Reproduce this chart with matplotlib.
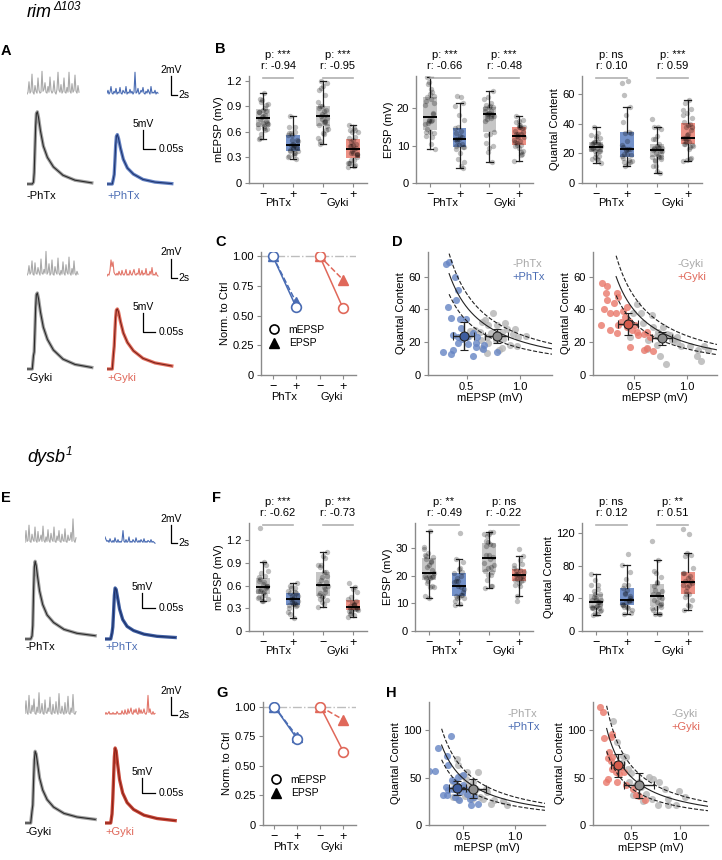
import numpy as np
import matplotlib
matplotlib.use("Agg")
import matplotlib.pyplot as plt
from matplotlib.lines import Line2D

plt.rcParams['font.family'] = ['Liberation Sans', 'DejaVu Sans']

# ---------------- data ----------------
# rim (top half): paired mEPSP (mV) and quantal content per cell
rim_phtx_ctrl_mepsp = [0.64, 0.67, 0.75, 0.70, 0.78, 0.83, 0.875, 0.95, 0.93, 1.06, 0.98, 0.84, 0.775, 0.69,
                       0.625, 0.58, 0.63, 0.70, 0.83, 0.91, 0.97, 0.69, 0.64, 0.53, 0.73, 0.86, 0.52, 0.80]
rim_phtx_ctrl_qc = [32.5, 33.5, 37.6, 30.5, 30.5, 26.5, 27.9, 27.9, 25, 23.8, 23.4, 21.8, 21.4, 23,
                    26.5, 27.5, 21.4, 19.4, 16.4, 18.4, 17.4, 13.3, 16.4, 27, 25.5, 31.5, 24, 15.5]
rim_phtx_mepsp = [0.306, 0.334, 0.39, 0.416, 0.397, 0.322, 0.353, 0.44, 0.49, 0.444, 0.375, 0.42, 0.506, 0.5625,
                  0.6, 0.59, 0.51, 0.42, 0.59, 0.656, 0.5625, 0.37, 0.353, 0.78, 0.28, 0.46, 0.66]
rim_phtx_qc = [67.5, 68.9, 59.8, 51.7, 45.7, 41.2, 34.5, 34.1, 34.1, 28.5, 24.4, 23, 23, 25.9,
               23, 19.8, 19, 19.4, 16.8, 15.8, 11.3, 15, 12.9, 14.3, 14, 22, 18]
rim_gyki_ctrl_mepsp = [0.525, 0.57, 0.49, 0.67, 0.59, 0.68, 0.73, 0.78, 0.76, 0.84, 0.905, 0.86, 0.905, 0.95, 1.03,
                       1.11, 1.17, 1.14, 1.095, 0.80, 0.745, 0.635, 0.715, 0.46, 0.62, 0.81, 0.88, 0.72, 1.20]
rim_gyki_ctrl_qc = [43, 37.6, 37.6, 36.6, 31.5, 29.5, 26.5, 29.5, 23.4, 24.4, 23, 21.4, 20.4, 17.4, 17.4,
                    15.4, 17.4, 8.3, 11.7, 6.9, 11.3, 21.4, 18.4, 23.4, 16, 25, 22, 24, 15]
rim_gyki_mepsp = [0.23, 0.20, 0.24, 0.335, 0.35, 0.24, 0.21, 0.27, 0.33, 0.40, 0.43, 0.415, 0.38, 0.19, 0.27, 0.35,
                  0.335, 0.51, 0.525, 0.535, 0.48, 0.60, 0.65, 0.62, 0.46, 0.60, 0.68, 0.62, 0.43, 0.31, 0.45]
rim_gyki_qc = [49.7, 56.4, 54.3, 50.1, 47.7, 45.7, 40, 37.6, 37.6, 39, 41.6, 35.6, 32.5, 30.5, 27.5, 30.5,
               25.9, 30.5, 26.5, 24.4, 27.5, 25, 23, 26.5, 17, 15.4, 14.7, 16.4, 29.5, 44, 33]

# dysb (bottom half)
dysb_phtx_ctrl_mepsp = [0.532, 0.645, 0.53, 0.59, 0.62, 0.72, 0.73, 0.77, 0.80, 0.92, 0.69, 0.565, 0.45, 0.435,
                        0.48, 0.55, 0.60, 0.50, 0.66, 0.58, 0.40, 0.42, 0.52, 1.36, 0.88, 0.40, 0.45]
dysb_phtx_ctrl_qc = [56, 56, 49, 45.5, 38.5, 38.5, 35, 22.7, 26.2, 21, 28, 35, 63, 70,
                     52, 42, 33, 40, 30, 28, 45, 38, 31, 20, 25, 30, 28]
dysb_phtx_mepsp = [0.258, 0.377, 0.226, 0.345, 0.355, 0.30, 0.355, 0.42, 0.40, 0.45, 0.50, 0.50, 0.468, 0.532,
                   0.565, 0.57, 0.64, 0.42, 0.34, 0.516, 0.387, 0.458, 0.17, 0.60, 0.33]
dysb_phtx_qc = [81, 94.4, 57, 72.4, 63.6, 31.5, 36.7, 45.5, 38.5, 50.7, 52.4, 42.7, 35, 33.2,
                28, 21, 22.4, 29.7, 31.5, 38.5, 47.2, 26.2, 57, 30, 40]
dysb_gyki_ctrl_mepsp = [0.32, 0.36, 0.42, 0.407, 0.466, 0.48, 0.55, 0.68, 0.73, 0.786, 0.845, 0.776, 0.72, 0.88,
                        0.965, 0.88, 1.05, 0.99, 0.62, 0.517, 0.45, 0.60, 0.58, 0.50, 0.65, 0.38]
dysb_gyki_ctrl_qc = [110, 87.4, 73.4, 66, 59.4, 45.5, 42, 50.7, 49, 45.5, 38.5, 21, 28, 28,
                     21, 21, 29.7, 35.7, 25.2, 31.5, 71.7, 40, 45, 55, 33, 60]
dysb_gyki_mepsp = [0.183, 0.217, 0.224, 0.293, 0.31, 0.26, 0.293, 0.26, 0.31, 0.345, 0.31, 0.397, 0.38, 0.43,
                   0.36, 0.45, 0.517, 0.55, 0.64, 0.586, 0.24, 0.276, 0.345, 0.33]
dysb_gyki_qc = [125, 119, 91.6, 93.4, 96, 70.6, 68, 49, 59.4, 64.7, 71.7, 61.2, 54, 56,
                45.5, 42, 38.5, 31.5, 26.2, 30.8, 45.5, 77, 56, 62]

# summary markers in D / H: (mEPSP, QC, mEPSP err, QC err), order -PhTx, +PhTx, -Gyki, +Gyki
rim_summary = [(0.78, 23.8, 0.105, 4.0), (0.47, 24.0, 0.094, 8.6), (0.77, 22.4, 0.095, 4.0), (0.446, 31.1, 0.095, 6.8)]
dysb_summary = [(0.59, 38.5, 0.13, 10.0), (0.442, 39.5, 0.08, 7.3), (0.586, 42.0, 0.155, 13.0), (0.362, 62.9, 0.07, 12.5)]

# iso-EPSP curves (mV) and start mEPSP, for each D / H panel
rim_iso = [[16.5, 20.7, 24.8], [16.0, 19.8, 24.0]]
rim_iso_start = [0.335, 0.33]
dysb_iso = [[20.0, 24.5, 29.5], [19.5, 25.5, 31.5]]
dysb_iso_start = [0.29, 0.25]

# normalised medians (C, G): [PhTx, Gyki]
rim_norm_mepsp = [0.57, 0.56]
rim_norm_epsp = [0.61, 0.80]
dysb_norm_mepsp = [0.725, 0.62]
dysb_norm_epsp = [0.745, 0.89]

# statistics text
rim_p = [['***', '***'], ['***', '***'], ['ns', '***']]
rim_r = [['-0.94', '-0.95'], ['-0.66', '-0.48'], ['0.10', '0.59']]
dysb_p = [['***', '***'], ['**', 'ns'], ['ns', '**']]
dysb_r = [['-0.62', '-0.73'], ['-0.49', '-0.22'], ['0.12', '0.51']]

# averaged EPSP traces (mV) on a common time grid (ms)
epsp_t = [0, 22, 27, 30, 33, 36, 39, 43, 48, 56, 68, 85, 110, 150, 200, 270]
rim_phtx_ctrl_epsp = [0, 0, 0.5, 3, 9, 15, 18.5, 19, 17.5, 14, 10, 7, 4.5, 2.3, 1.0, 0.3]
rim_phtx_epsp = [0, 0, 1.5, 2.5, 6, 10, 12.5, 13, 12, 9.5, 6.5, 4.2, 2.6, 1.2, 0.5, 0.1]
rim_gyki_ctrl_epsp = [0, 0, 3.5, 4.5, 10, 16, 19.5, 20, 18.5, 15, 11, 7.8, 5, 2.6, 1.2, 0.4]
rim_gyki_epsp = [0, 0, 4, 6, 10, 13.5, 15.5, 15.8, 15, 12.5, 9.5, 7, 4.8, 2.8, 1.6, 0.8]
dysb_phtx_ctrl_epsp = [0, 0, 1, 4.5, 16, 24, 25.9, 24.5, 21, 16, 11.5, 8, 5.5, 3.2, 1.9, 1.1]
dysb_phtx_epsp = [0, 0, 2, 4, 9, 14.5, 17, 16.5, 14, 10, 6.5, 4.2, 2.8, 1.6, 0.9, 0.5]
dysb_gyki_ctrl_epsp = [0, 0, 4, 6, 14, 21, 23.9, 23, 20, 15, 11, 7.8, 5.3, 3.2, 2.0, 1.2]
dysb_gyki_epsp = [0, 0, 3, 8, 15, 22, 25, 24, 20, 14.5, 10, 6.8, 4.5, 2.6, 1.5, 0.8]

# spontaneous mini traces (mV), one sample every 1/3 s
rim_phtx_ctrl_mini = [0.2, 0.4, 1.5, 0.3, 0.5, 2.3, 0.4, 0.2, 1.1, 0.5, 0.3, 1.9, 0.6, 0.3, 0.4, 2.6, 0.5, 0.7,
                      1.4, 0.4, 0.3, 1.0, 0.4, 2.0, 0.6, 0.3, 0.5, 1.6, 0.4, 0.2, 0.7, 2.5, 0.6, 0.4, 1.2, 0.3,
                      0.5, 1.9, 0.4, 0.3, 0.9, 0.4, 2.5, 0.5, 0.3, 1.3, 0.4, 0.6, 2.2, 0.5, 0.3, 1.1, 0.4]
rim_phtx_mini = [0.3, 0.6, 0.2, 0.4, 1.0, 0.3, 0.2, 0.5, 0.3, 0.8, 0.2, 0.4, 0.3, 0.9, 0.3, 0.2, 0.6, 0.4,
                 0.3, 1.0, 0.2, 0.4, 0.3, 0.7, 0.3, 0.5, 0.2, 0.4, 2.5, 0.3, 0.4, 0.8, 0.2, 0.3, 0.6, 0.4,
                 0.9, 0.3, 0.2, 0.5, 0.3, 0.7, 0.4, 0.2, 1.0, 0.3, 0.4, 0.3, 0.6, 0.2, 0.4, 0.3]
rim_gyki_ctrl_mini = [0.3, 0.5, 1.3, 0.4, 0.6, 1.8, 0.4, 0.3, 1.6, 0.5, 0.4, 1.1, 0.6, 0.3, 2.0, 0.5, 0.4, 0.9,
                      0.5, 2.8, 0.4, 0.6, 1.5, 0.3, 0.5, 1.9, 0.4, 0.3, 1.2, 0.6, 0.4, 2.1, 0.5, 0.3, 0.8, 0.4,
                      1.7, 0.5, 0.3, 1.4, 0.6, 0.4, 2.2, 0.5, 0.3, 1.0, 0.4, 1.8, 0.5, 0.3, 0.7, 0.4]
rim_gyki_mini = [0.2, 0.4, 0.3, 0.8, 1.9, 1.2, 1.7, 0.6, 0.4, 0.3, 0.5, 0.3, 0.7, 0.4, 0.3, 0.8, 0.4, 0.3,
                 0.5, 0.9, 0.3, 0.4, 0.3, 0.8, 0.4, 0.3, 0.6, 0.9, 0.4, 0.3, 0.5, 0.4, 1.0, 0.3, 0.4, 0.8,
                 0.3, 0.5, 0.4, 1.0, 0.3, 0.4, 0.3, 0.7, 0.4, 1.1, 0.3, 0.4, 0.3, 0.6, 0.3, 0.2]
dysb_phtx_ctrl_mini = [0.3, 1.6, 0.4, 0.5, 2.2, 0.4, 0.3, 1.2, 0.6, 0.4, 2.0, 0.5, 0.3, 1.5, 0.4, 0.6, 1.1, 0.4,
                       2.1, 0.5, 0.3, 0.9, 0.4, 1.7, 0.5, 0.3, 1.3, 0.6, 0.4, 2.0, 0.4, 0.3, 1.0, 0.5, 1.6, 0.4,
                       0.3, 1.2, 0.5, 0.4, 1.8, 0.4, 0.3, 1.1, 0.5, 0.6, 1.4, 0.4, 2.9, 0.5, 0.3, 0.8]
dysb_phtx_mini = [0.9, 0.6, 0.4, 0.5, 0.3, 0.7, 0.4, 0.3, 0.5, 0.3, 0.8, 0.4, 0.3, 0.6, 0.3, 0.4, 0.3, 0.5,
                  1.6, 0.4, 0.3, 0.6, 0.3, 0.4, 0.9, 0.3, 0.4, 0.3, 0.6, 0.4, 0.3, 0.8, 0.4, 0.3, 0.5, 0.3,
                  0.6, 0.4, 0.3, 0.7, 0.3, 0.4, 0.3, 0.5, 0.4, 0.3, 0.6, 0.3, 0.4, 0.3, 0.2]
dysb_gyki_ctrl_mini = [0.4, 1.8, 0.5, 0.3, 2.4, 0.5, 0.4, 1.3, 0.6, 2.0, 0.4, 0.3, 1.1, 0.5, 2.7, 0.4, 0.6, 1.5,
                       0.4, 0.3, 1.9, 0.5, 0.4, 1.0, 0.6, 2.2, 0.4, 0.3, 1.4, 0.5, 0.4, 1.7, 0.6, 0.3, 2.6, 0.5,
                       0.4, 1.2, 0.5, 0.3, 1.6, 0.4, 0.6, 2.3, 0.4, 0.3, 1.0, 0.5, 2.5, 0.4, 0.3, 0.6]
dysb_gyki_mini = [0.3, 0.5, 0.3, 0.4, 0.6, 0.3, 0.4, 0.3, 0.5, 0.3, 0.4, 0.3, 0.6, 0.4, 0.3, 0.4, 0.3, 0.7,
                  0.4, 0.3, 0.8, 0.4, 0.3, 0.9, 0.4, 0.6, 1.0, 0.4, 0.3, 0.8, 0.5, 0.9, 0.4, 0.3, 1.0, 0.4,
                  0.8, 0.4, 0.5, 0.9, 0.4, 0.3, 0.6, 2.4, 0.5, 0.9, 0.4, 0.3, 0.6, 0.3, 0.4]

# ---------------- style ----------------
BLUE = '#4a6cb3'
RED = '#e0685a'
BOX_C = ['#c6c6c6', '#7391c9', '#c6c6c6', '#ec9084']
SC_C = ['#b4b4b4', '#6685c4', '#b4b4b4', '#e9786b']
SUM_C = ['#8e8e8e', '#3e5d9f', '#8e8e8e', '#d65c4c']
SPINE = '#8a8a8a'
FS = 8

W, H = 722, 860
fig = plt.figure(figsize=(W / 100, H / 100), dpi=100)


def add_ax(l, t, r, b):
    return fig.add_axes([l / W, 1 - b / H, (r - l) / W, (b - t) / H])


def ftext(x, y, s, **kw):
    return fig.text(x / W, 1 - y / H, s, **kw)


def style(ax):
    for s in ['top', 'right']:
        ax.spines[s].set_visible(False)
    for s in ['left', 'bottom']:
        ax.spines[s].set_color(SPINE)
        ax.spines[s].set_linewidth(1)
    ax.tick_params(labelsize=FS, length=3, width=0.8, color=SPINE, pad=2)


def group_labels(ax, off=14.5):
    ax.set_xticks([0, 1, 2, 3], ['\u2212', '+', '\u2212', '+'])
    ax.tick_params(axis='x', labelsize=9, pad=1)
    for x, lab in [(0.5, 'PhTx'), (2.5, 'Gyki')]:
        ax.annotate(lab, xy=(x, 0), xycoords=('data', 'axes fraction'), xytext=(0, -off),
                    textcoords='offset points', ha='center', va='center', fontsize=FS)


def box_panel(rect, groups, ylabel, ylim, yticks, yticklabels, pv, rv):
    ax = add_ax(*rect)
    style(ax)
    bp = ax.boxplot(groups, positions=[0, 1, 2, 3], widths=0.45, patch_artist=True, showfliers=False,
                    medianprops=dict(color='k', lw=1.4, zorder=5),
                    whiskerprops=dict(color='#222222', lw=0.9), capprops=dict(color='#222222', lw=0.9),
                    boxprops=dict(linewidth=0))
    for patch, c in zip(bp['boxes'], BOX_C):
        patch.set_facecolor(c)
        patch.set_edgecolor('none')
    for p, g in enumerate(groups):
        n = len(g)
        jit = ((np.arange(n) * 0.618) % 1 - 0.5) * 0.34
        ax.scatter(p + jit, g, s=15, color='k', alpha=0.25, lw=0, zorder=4)
    ax.set_xlim(-0.47, 3.47)
    ax.set_ylim(*ylim)
    ax.set_yticks(yticks, yticklabels)
    ax.set_ylabel(ylabel, fontsize=FS, labelpad=2)
    group_labels(ax)
    for k, x0 in enumerate([0, 2]):
        ax.plot([x0, x0 + 1], [0.977, 0.977], color='#b0b0b0', lw=1.2,
                transform=ax.get_xaxis_transform(), clip_on=False)
        ax.annotate('p: ' + pv[k], xy=(x0 + 0.5, 1), xycoords=('data', 'axes fraction'), xytext=(0, 15),
                    textcoords='offset points', ha='center', va='center', fontsize=FS)
        ax.annotate('r: ' + rv[k], xy=(x0 + 0.5, 1), xycoords=('data', 'axes fraction'), xytext=(0, 7.2),
                    textcoords='offset points', ha='center', va='center', fontsize=FS)
    return ax


def norm_panel(rect, n_mepsp, n_epsp, ytop):
    ax = add_ax(*rect)
    style(ax)
    ax.axhline(1.0, color='#bdbdbd', ls='-.', lw=1, zorder=0)
    for i, c in enumerate([BLUE, RED]):
        pos = [2 * i, 2 * i + 1]
        ax.plot(pos, [1, n_epsp[i]], ls='--', color=c, lw=1.1, marker='^', ms=7, mfc=c, mec=c, zorder=3)
        ax.plot(pos, [1, n_mepsp[i]], ls='-', color=c, lw=1.1, marker='o', ms=7, mfc='white', mec=c,
                mew=1.2, zorder=4)
    ax.set_xlim(-0.5, 3.55)
    ax.set_ylim(0, ytop)
    ax.set_yticks([0, 0.25, 0.5, 0.75, 1.0], ['0', '0.25', '0.50', '0.75', '1.00'])
    ax.set_ylabel('Norm. to Ctrl', fontsize=FS, labelpad=2)
    group_labels(ax, off=15.5)
    handles = [Line2D([], [], ls='none', marker='o', mfc='white', mec='k', mew=1.2, ms=6.5),
               Line2D([], [], ls='none', marker='^', color='k', ms=6.5)]
    ax.legend(handles, ['mEPSP', 'EPSP'], loc='upper left', bbox_to_anchor=(0.04, 0.44), frameon=False,
              fontsize=7.5, handletextpad=0.9, labelspacing=0.3, borderaxespad=0, handlelength=1)
    return ax


def qc_panel(rect, pairs, summary, idx, iso, x_start, xlim, ylim, yticks, labels):
    ax = add_ax(*rect)
    style(ax)
    for j in idx:
        m, q = pairs[j]
        ax.scatter(m, q, s=26, color=SC_C[j], alpha=0.8, lw=0, zorder=2)
    xs = np.linspace(x_start, xlim[1], 200)
    for e, ls in zip(iso, ['--', '-', '--']):
        ax.plot(xs, e / xs, color='#222222', ls=ls, lw=0.8, zorder=3)
    for j in idx:
        mx, my, ex, ey = summary[j]
        ax.errorbar(mx, my, xerr=ex, yerr=ey, fmt='o', ms=6.5, mfc=SUM_C[j], mec='#222222', mew=0.8,
                    ecolor='#222222', elinewidth=1, capsize=3, zorder=5)
    ax.set_xlim(*xlim)
    ax.set_ylim(*ylim)
    ax.set_xticks([0.5, 1.0], ['0.5', '1.0'])
    ax.set_yticks(yticks)
    ax.set_xlabel('mEPSP (mV)', fontsize=FS, labelpad=1)
    ax.set_ylabel('Quantal Content', fontsize=FS, labelpad=2)
    ax.text(0.68, 0.9, labels[0], color='#a8a8a8', fontsize=FS, transform=ax.transAxes, va='center')
    ax.text(0.68, 0.8, labels[1], color=BLUE if idx[1] == 1 else RED, fontsize=FS,
            transform=ax.transAxes, va='center')
    return ax


def trace_axes(x0, y_base, width, up, down, px_x, px_y):
    ax = add_ax(x0, y_base - up, x0 + width, y_base + down)
    ax.set_xlim(0, width / px_x)
    ax.set_ylim(-down / px_y, up / px_y)
    ax.axis('off')
    return ax


def scale_bar(ax, x, y, dx, dy, lx, ly):
    ax.plot([x, x, x + dx], [y + dy, y, y], color='k', lw=0.9, clip_on=False)
    ax.text(x, y + dy * 1.08, lx, ha='center', va='bottom', fontsize=7.5, clip_on=False)
    ax.text(x + dx * 1.3, y, ly, ha='left', va='center', fontsize=7.5, clip_on=False)


def mini_row(y_base, x_ctrl, x_drug, ctrl, drug, col, px_y, bar_x, bar_y0):
    px_x = 3.0
    a1 = trace_axes(x_ctrl, y_base, 60, 32, 5, px_x, px_y)
    a1.plot(np.arange(len(ctrl)) / px_x, ctrl, color='#a9a9a9', lw=0.8)
    a2 = trace_axes(x_drug, y_base, 85, 32, 5, px_x, px_y)
    a2.plot(np.arange(len(drug)) / px_x, drug, color=col, lw=0.8)
    scale_bar(a2, (bar_x - x_drug) / px_x, bar_y0, 2, 2, '2mV', '2s')


def epsp_row(y_base, x_ctrl, x_drug, ctrl, drug, band, line, px_x, px_y, bar_x, bar_y0, lab, lab_c, lab_y):
    t = np.array(epsp_t) / 1000
    a1 = trace_axes(x_ctrl, y_base, 75, 85, 6, px_x, px_y)
    a1.plot(t, ctrl, color='#a0a0a0', lw=2.4)
    a1.plot(t, ctrl, color='#2a2a2a', lw=0.8)
    a2 = trace_axes(x_drug, y_base, 90, 85, 6, px_x, px_y)
    a2.plot(t, drug, color=band, lw=2.4)
    a2.plot(t, drug, color=line, lw=0.8)
    scale_bar(a2, (bar_x - x_drug) / px_x, bar_y0, 0.05, 5, '5mV', '0.05s')
    ftext(x_ctrl, lab_y, '-' + lab, fontsize=FS, va='center')
    ftext(x_drug, lab_y, '+' + lab, fontsize=FS, va='center', color=lab_c)


def pair_eps(m, q):
    return [a * b for a, b in zip(m, q)]


# ---------------- titles and panel letters ----------------
for txt, sup, y_t, y_s in [('rim', '\u0394103', 17, 10), ('dysb', '1', 462, 455)]:
    t1 = ftext(27, y_t, txt, fontsize=13, style='italic', va='baseline')
    fig.canvas.draw()
    bb = t1.get_window_extent()
    fig.text((bb.x1 + 1) / W, 1 - y_s / H, sup, fontsize=8.5, style='italic', va='baseline')

for letter, x, y in [('A', 1, 51), ('B', 215, 49), ('C', 215, 242), ('D', 392, 242),
                     ('E', 1, 498), ('F', 212, 498), ('G', 216, 693), ('H', 386, 693)]:
    ftext(x, y, letter, fontsize=10.5, fontweight='bold', va='center')

# ---------------- traces A / E ----------------
mini_row(96, 27, 107, rim_phtx_ctrl_mini, rim_phtx_mini, BLUE, 9.5, 171, 0.1)
epsp_row(184, 27, 107, rim_phtx_ctrl_epsp, rim_phtx_epsp, '#6583c4', '#1f3570', 240, 3.8, 143, 9.2,
         'PhTx', BLUE, 196)
mini_row(278, 27, 107, rim_gyki_ctrl_mini, rim_gyki_mini, '#e2766a', 9.5, 171, 0.0)
epsp_row(369, 27, 107, rim_gyki_ctrl_epsp, rim_gyki_epsp, '#e2705f', '#7c2119', 240, 3.8, 143, 9.7,
         'Gyki', RED, 378)
mini_row(545, 25, 105, dysb_phtx_ctrl_mini, dysb_phtx_mini, BLUE, 9.0, 171, 0.22)
epsp_row(639, 25, 105, dysb_phtx_ctrl_epsp, dysb_phtx_epsp, '#3f5fa3', '#1c3068', 260, 3.0, 142, 10.3,
         'PhTx', BLUE, 647)
mini_row(717, 25, 105, dysb_gyki_ctrl_mini, dysb_gyki_mini, '#e2766a', 9.0, 171, 0.22)
epsp_row(823, 25, 105, dysb_gyki_ctrl_epsp, dysb_gyki_epsp, '#c9493b', '#8a2216', 260, 3.0, 142, 10.0,
         'Gyki', RED, 832)

# ---------------- B / F box plots ----------------
for geno, top, bot, lims, ticks, pv, rv in [
        ('rim', 76, 183, [1.255, 28.6, 72.4],
         [([0, 0.3, 0.6, 0.9, 1.2], ['0', '0.3', '0.6', '0.9', '1.2']), ([0, 10, 20], ['0', '10', '20']),
          ([0, 20, 40, 60], ['0', '20', '40', '60'])], rim_p, rim_r),
        ('dysb', 523, 631, [1.43, 39.2, 132.6],
         [([0, 0.3, 0.6, 0.9, 1.2], ['0', '0.3', '0.6', '0.9', '1.2']), ([0, 10, 20, 30], ['0', '10', '20', '30']),
          ([0, 40, 80, 120], ['0', '40', '80', '120'])], dysb_p, dysb_r)]:
    g = globals()
    ms = [g[geno + '_phtx_ctrl_mepsp'], g[geno + '_phtx_mepsp'], g[geno + '_gyki_ctrl_mepsp'], g[geno + '_gyki_mepsp']]
    qs = [g[geno + '_phtx_ctrl_qc'], g[geno + '_phtx_qc'], g[geno + '_gyki_ctrl_qc'], g[geno + '_gyki_qc']]
    es = [pair_eps(m, q) for m, q in zip(ms, qs)]
    lefts = [(249, 367), (416, 533), (582, 702)] if geno == 'rim' else [(249, 367), (415, 533), (582, 702)]
    for k, (data, ylab) in enumerate([(ms, 'mEPSP (mV)'), (es, 'EPSP (mV)'), (qs, 'Quantal Content')]):
        l, r = lefts[k]
        box_panel((l, top, r, bot), data, ylab, (0, lims[k]), ticks[k][0], ticks[k][1], pv[k], rv[k])

# ---------------- C / G ----------------
norm_panel((261, 252, 356, 375), rim_norm_mepsp, rim_norm_epsp, 1.034)
norm_panel((263, 702, 356, 825), dysb_norm_mepsp, dysb_norm_epsp, 1.04)

# ---------------- D / H ----------------
rim_pairs = [(rim_phtx_ctrl_mepsp, rim_phtx_ctrl_qc), (rim_phtx_mepsp, rim_phtx_qc),
             (rim_gyki_ctrl_mepsp, rim_gyki_ctrl_qc), (rim_gyki_mepsp, rim_gyki_qc)]
dysb_pairs = [(dysb_phtx_ctrl_mepsp, dysb_phtx_ctrl_qc), (dysb_phtx_mepsp, dysb_phtx_qc),
              (dysb_gyki_ctrl_mepsp, dysb_gyki_ctrl_qc), (dysb_gyki_mepsp, dysb_gyki_qc)]

qc_panel((428, 252, 552, 375), rim_pairs, rim_summary, [0, 1], rim_iso[0], rim_iso_start[0],
         (0.137, 1.30), (0, 75), [0, 20, 40, 60], ['-PhTx', '+PhTx'])
qc_panel((593, 252, 717, 375), rim_pairs, rim_summary, [2, 3], rim_iso[1], rim_iso_start[1],
         (0.11, 1.29), (0, 75), [0, 20, 40, 60], ['-Gyki', '+Gyki'])
qc_panel((429, 702, 545, 825), dysb_pairs, dysb_summary, [0, 1], dysb_iso[0], dysb_iso_start[0],
         (0.168, 1.29), (0, 130), [0, 50, 100], ['-PhTx', '+PhTx'])
qc_panel((593, 702, 708, 825), dysb_pairs, dysb_summary, [2, 3], dysb_iso[1], dysb_iso_start[1],
         (0.11, 1.29), (0, 130), [0, 50, 100], ['-Gyki', '+Gyki'])

fig.savefig('out.png', dpi=100)
